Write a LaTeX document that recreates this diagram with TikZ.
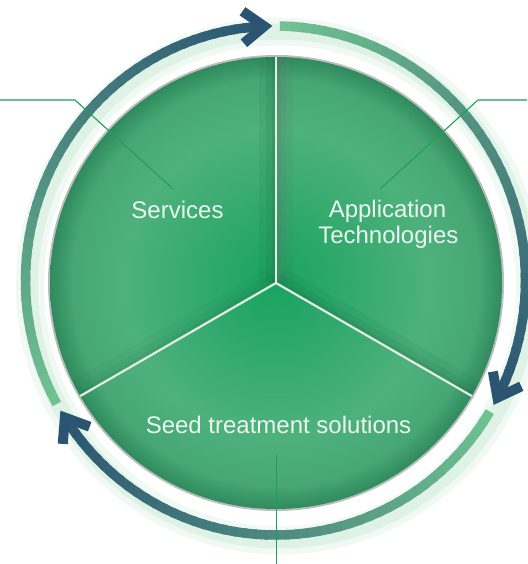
\documentclass[tikz,border=0pt]{standalone}
\usepackage{fontspec}
\setmainfont{Liberation Sans}
\usetikzlibrary{calc}
\definecolor{ringStart}{RGB}{112,194,146}
\definecolor{ringMid}{RGB}{78,138,128}
\definecolor{ringEnd}{RGB}{43,84,114}
\definecolor{glowgreen}{RGB}{190,230,203}
\definecolor{leadgreen}{RGB}{32,158,94}
\definecolor{labelwhite}{RGB}{234,246,238}
\definecolor{rimgray}{RGB}{184,191,186}
\definecolor{divwhite}{RGB}{228,234,230}
\definecolor{dA}{RGB}{24,164,94}
\definecolor{dB}{RGB}{46,168,108}
\definecolor{dC}{RGB}{78,177,124}
\definecolor{dD}{RGB}{70,167,116}
\definecolor{dE}{RGB}{48,138,94}
\definecolor{shadowgreen}{RGB}{18,100,62}
\definecolor{shadowgray}{RGB}{95,115,105}
\pgfdeclareradialshading{discshade}{\pgfpoint{0bp}{0bp}}{color(0bp)=(dA); color(7bp)=(dB); color(17bp)=(dC); color(22.5bp)=(dD); color(25bp)=(dE); color(50bp)=(dE)}
\tikzset{
  lbl/.style={font=\fontsize{24}{26}\selectfont, text=labelwhite, inner sep=0pt},
  leaderline/.style={draw=leadgreen, line width=1.1pt},
  chev/.style={draw=ringEnd, line width=10pt, line join=miter, line cap=butt},
  divline/.style={draw=divwhite, line width=2.2pt},
  glowring/.style={draw=glowgreen},
}
\begin{document}
\begin{tikzpicture}[x=1pt,y=1pt]
\useasboundingbox (0,0) rectangle (527,564);
\fill[white] (0,0) rectangle (527,564);

\coordinate (D) at (276,281);
\coordinate (R) at (275.5,283.5);
\coordinate (G) at (280,278);

% soft glow of the ring
\draw[glowring, line width=28pt, opacity=0.22] (G) ellipse[x radius=250pt, y radius=254.5pt];
\draw[glowring, line width=16pt, opacity=0.32] (G) ellipse[x radius=250pt, y radius=254.5pt];

% gradient ring arcs
\begin{scope}[shift={(R)}]
\foreach \startang/\endang in {209/92.6, 89/-27.4, -31/-147.4}{
  \foreach \i in {0,...,47}{
    \pgfmathsetmacro{\angA}{\startang+(\endang-\startang)*\i/48}
    \pgfmathsetmacro{\angB}{\startang+(\endang-\startang)*min(\i+1.4,48)/48}
    \pgfmathtruncatemacro{\mixa}{min(100,200*\i/47)}
    \pgfmathtruncatemacro{\mixb}{max(0,200*\i/47-100)}
    \colorlet{segA}{ringMid!\mixa!ringStart}
    \colorlet{segB}{ringEnd!\mixb!segA}
    \draw[segB, line width=9.5pt, line cap=butt] (\angA:250pt and 254.5pt) arc[start angle=\angA, end angle=\angB, x radius=250pt, y radius=254.5pt];
  }
}
\foreach \t in {92.6,-27.4,212.6}{
  \begin{scope}[shift={(\t:250pt and 254.5pt)}, rotate=\t-90]
    \draw[chev] (-21,16) -- (0,0) -- (-21,-16);
  \end{scope}
}
\end{scope}

% disc
\fill[rimgray] (D) circle[radius=228];
\shade[shading=discshade] (D) circle[radius=226];

% sector shadows
\begin{scope}
  \path[clip] (D) -- ++(90:226) arc[start angle=90, end angle=210, radius=226] -- cycle;
  \foreach \w/\o in {34/0.09, 20/0.11, 9/0.14}{
    \draw[shadowgreen, line width=\w pt, opacity=\o] (D) -- ++(90:230);
    \draw[shadowgreen, line width=\w pt, opacity=0.6*\o] (D) -- ++(210:230);
  }
\end{scope}
\begin{scope}
  \path[clip] (D) -- ++(-30:226) arc[start angle=-30, end angle=90, radius=226] -- cycle;
  \foreach \w/\o in {34/0.11, 20/0.13, 9/0.16}{
    \draw[shadowgray, line width=\w pt, opacity=\o] (D) -- ++(90:230);
    \draw[shadowgreen, line width=\w pt, opacity=0.8*\o] (D) -- ++(-30:230);
  }
\end{scope}

% dividers
\draw[divline] (D) -- ++(90:226);
\draw[divline] (D) -- ++(210:226);
\draw[divline] (D) -- ++(330:226);

% labels
\node[lbl, anchor=base] (services) at (177.5,345.5) {Services};
\node[lbl, anchor=base] (app1) at (387.5,346) {Application};
\node[lbl, anchor=base] (app2) at (388.3,320.5) {Technologies};
\node[lbl, anchor=base] (seed) at (278.5,130.5) {Seed treatment solutions};

% leader lines
\coordinate (sA) at (0,464);
\coordinate (sB) at (75,464);
\coordinate (sC) at (173,375);
\coordinate (aA) at (527,464);
\coordinate (aB) at (478,464);
\coordinate (aC) at (380,375);
\coordinate (tA) at (276.5,109);
\coordinate (tB) at (276.5,0);
\draw[leaderline] (sA) -- (sB) -- (sC);
\draw[leaderline] (aA) -- (aB) -- (aC);
\draw[leaderline] (tA) -- (tB);
\end{tikzpicture}
\end{document}
